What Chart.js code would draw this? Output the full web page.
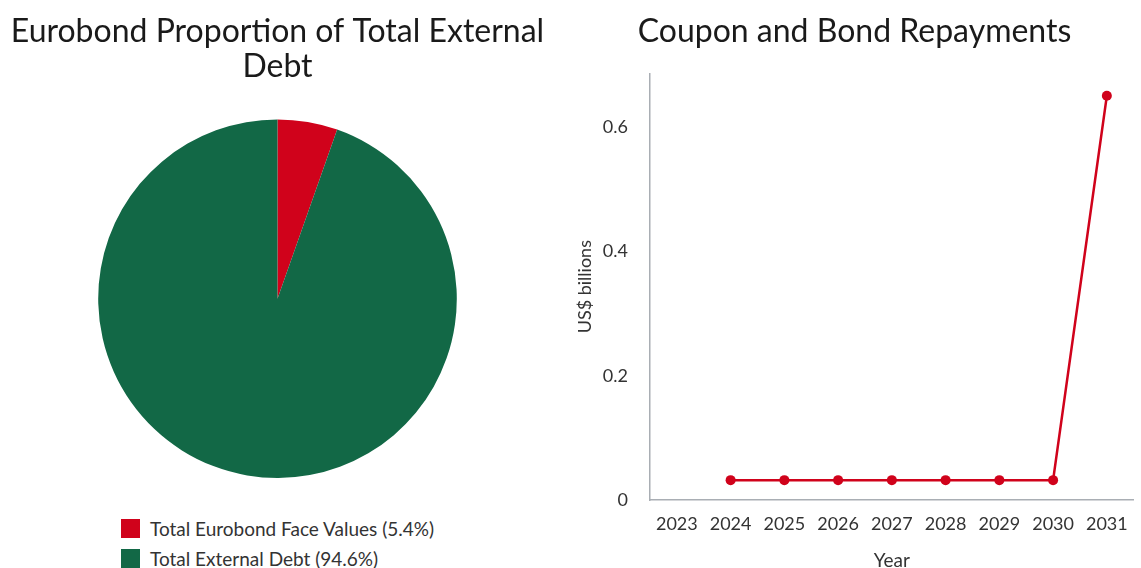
<!DOCTYPE html>
<html>
<head>
<meta charset="utf-8">
<script src="https://cdn.jsdelivr.net/npm/chart.js@4.4.1/dist/chart.umd.min.js"></script>
<style>
    body { margin: 0; background: #fff; font-family: Lato, sans-serif; }
    #left { position: absolute; left: 0; top: 0; width: 555px; height: 568px; }
    #right { position: absolute; left: 560px; top: 0; width: 581px; height: 568px; }
    #pieLegend { position: absolute; left: 121px; top: 519px; margin: 0; padding: 0; list-style: none; }
    #pieLegend li { height: 30px; display: flex; align-items: flex-start; font-size: 19px; line-height: 19px; color: #333; }
    #pieLegend span.box { width: 19px; height: 19px; margin-right: 10px; }
</style>
</head>
<body>
<div id="left">
    <canvas id="pieChart" width="555" height="478"></canvas>
    <ul id="pieLegend"></ul>
</div>
<div id="right">
    <canvas id="lineChart" width="581" height="568"></canvas>
</div>
<script>
// Pie data
const pieLabels = ['Total Eurobond Face Values (5.4%)', 'Total External Debt (94.6%)'];
const pieValues = [5.4, 94.6];
const pieColors = ['#d0021b', '#126846'];

// Line data
const years = ['2023', '2024', '2025', '2026', '2027', '2028', '2029', '2030', '2031'];
const repayments = [null, 0.032, 0.032, 0.032, 0.032, 0.032, 0.032, 0.032, 0.651];
const yTicks = [0, 0.2, 0.4, 0.6];

const textColor = '#333';
const axisColor = '#a9aeb4';

Chart.defaults.font.family = 'Lato, sans-serif';
Chart.defaults.color = textColor;

new Chart(document.getElementById('pieChart'), {
    type: 'pie',
    data: {
        labels: pieLabels,
        datasets: [{
            data: pieValues,
            backgroundColor: pieColors,
            borderWidth: 0
        }]
    },
    options: {
        responsive: false,
        animation: false,
        plugins: {
            legend: { display: false },
            tooltip: { enabled: false },
            title: {
                display: true,
                text: ['Eurobond Proportion of Total External', 'Debt'],
                color: '#1a1a1a',
                font: { size: 32, weight: 'normal', lineHeight: 1.1 },
                padding: { top: 14, bottom: 35 }
            }
        }
    }
});

// HTML legend so both rows line up on the left
const legendEl = document.getElementById('pieLegend');
pieLabels.forEach((label, i) => {
    const li = document.createElement('li');
    const box = document.createElement('span');
    box.className = 'box';
    box.style.background = pieColors[i];
    li.appendChild(box);
    li.appendChild(document.createTextNode(label));
    legendEl.appendChild(li);
});

new Chart(document.getElementById('lineChart'), {
    type: 'line',
    data: {
        labels: years,
        datasets: [{
            label: 'Repayments',
            data: repayments,
            borderColor: '#d0021b',
            backgroundColor: '#d0021b',
            borderWidth: 2.5,
            tension: 0,
            pointRadius: 5,
            pointBorderWidth: 0
        }]
    },
    options: {
        responsive: false,
        animation: false,
        layout: { padding: { left: 8 } },
        plugins: {
            legend: { display: false },
            tooltip: { enabled: false },
            title: {
                display: true,
                text: 'Coupon and Bond Repayments',
                color: '#1a1a1a',
                font: { size: 32, weight: 'normal' },
                padding: { top: 12, bottom: 23 }
            }
        },
        scales: {
            x: {
                offset: true,
                grid: { display: false, drawTicks: false },
                border: { color: axisColor, width: 1.5 },
                ticks: { color: textColor, font: { size: 18 }, padding: 13, maxRotation: 0 },
                title: {
                    display: true,
                    text: 'Year',
                    color: textColor,
                    font: { size: 19, lineHeight: 1 },
                    padding: { top: 0, bottom: -2 }
                },
                afterFit: (scale) => { scale.height = 68; }
            },
            y: {
                min: 0,
                max: 0.687,
                grid: { display: false, drawTicks: false },
                border: { color: axisColor, width: 1.5 },
                afterBuildTicks: (scale) => {
                    scale.ticks = yTicks.map(v => ({ value: v }));
                },
                ticks: {
                    color: textColor,
                    font: { size: 18 },
                    padding: 22,
                    callback: (value) => value === 0 ? '0' : value.toFixed(1)
                },
                title: {
                    display: true,
                    text: 'US$ billions',
                    color: textColor,
                    font: { size: 18, lineHeight: 1 },
                    padding: { top: 8, bottom: 0 }
                },
                afterFit: (scale) => { scale.width = 82; }
            }
        }
    }
});
</script>
</body>
</html>
